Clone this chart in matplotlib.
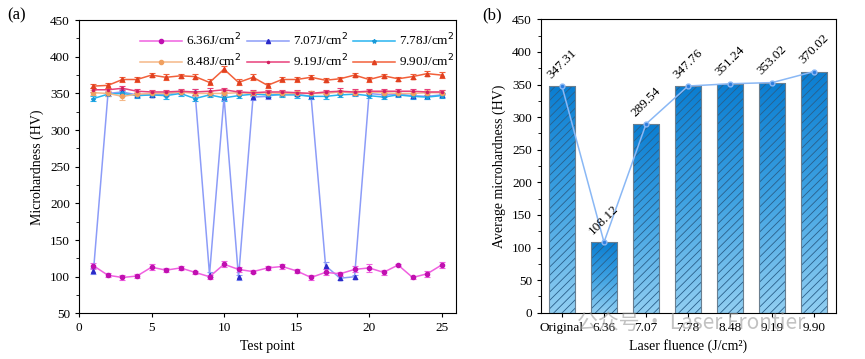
import numpy as np
import matplotlib
matplotlib.use("Agg")
import matplotlib.pyplot as plt
from matplotlib.colors import LinearSegmentedColormap
from matplotlib.lines import Line2D
from matplotlib.ticker import MultipleLocator

plt.rcParams['font.family'] = ['Liberation Serif', 'DejaVu Serif']
plt.rcParams['hatch.linewidth'] = 0.6

# ---- panel (a) data ----
points = np.arange(1, 26)
labels_a = ["6.36J/cm$^2$", "7.07J/cm$^2$", "7.78J/cm$^2$",
            "8.48J/cm$^2$", "9.19J/cm$^2$", "9.90J/cm$^2$"]
hv_636 = [115, 102, 99, 101, 113, 109, 112, 106, 100, 117, 110, 107, 112,
          114, 108, 99, 106, 104, 110, 112, 106, 116, 99, 104, 116]
hv_707 = [108, 350, 352, 348, 348, 349, 352, 352, 103, 345, 99, 345, 346,
          350, 349, 346, 115, 98, 100, 350, 348, 349, 347, 346, 348]
hv_778 = [343, 349, 350, 347, 348, 347, 350, 343, 348, 344, 347, 349, 348,
          348, 348, 346, 346, 348, 349, 347, 345, 348, 346, 345, 347]
hv_848 = [351, 350, 346, 349, 350, 350, 352, 350, 350, 350, 351, 350, 351,
          350, 350, 350, 350, 352, 351, 352, 351, 350, 350, 351, 351]
hv_919 = [355, 355, 357, 353, 352, 352, 353, 352, 353, 355, 352, 351, 352,
          352, 351, 350, 352, 353, 352, 353, 353, 353, 353, 352, 352]
hv_990 = [360, 361, 369, 369, 375, 372, 374, 373, 365, 383, 365, 372, 361,
          369, 369, 372, 368, 370, 375, 369, 374, 370, 373, 377, 375]
err_636 = [4, 3, 3, 3, 4, 3, 3, 2, 3, 4, 3, 2, 3, 3, 3, 3, 4, 3, 4, 5, 3, 2, 2, 4, 4]
err_707 = [4, 3, 4, 3, 3, 3, 3, 4, 4, 4, 4, 4, 4, 3, 3, 4, 5, 3, 3, 3, 3, 3, 3, 4, 3]
err_778 = [4, 3, 3, 3, 3, 4, 3, 4, 3, 4, 3, 3, 3, 3, 4, 4, 4, 3, 3, 3, 3, 3, 3, 3, 3]
err_848 = [3, 3, 5, 3, 3, 3, 3, 3, 3, 3, 3, 3, 3, 3, 3, 3, 3, 3, 3, 3, 3, 3, 3, 3, 3]
err_919 = [3, 3, 3, 3, 3, 3, 3, 4, 4, 3, 3, 3, 3, 3, 3, 3, 3, 4, 4, 3, 3, 3, 3, 4, 3]
err_990 = [3, 3, 4, 4, 3, 4, 3, 3, 4, 4, 4, 4, 3, 3, 3, 3, 3, 3, 3, 3, 3, 3, 4, 3, 4]

# ---- panel (b) data ----
fluence = ["Original", "6.36", "7.07", "7.78", "8.48", "9.19", "9.90"]
avg_hv = [347.31, 108.12, 289.54, 347.76, 351.24, 353.02, 370.02]

fig = plt.figure(figsize=(8.65, 3.59), dpi=100)
ax1 = fig.add_axes([0.0913, 0.127, 0.436, 0.817])
ax2 = fig.add_axes([0.6254, 0.129, 0.3411, 0.817])

# (values, errors, line colour, marker colour, marker, legend index)
series = [
    (hv_707, err_707, '#8c9cf8', '#2a2ac8', '^', 1),
    (hv_636, err_636, '#f060e0', '#c010b0', 'o', 0),
    (hv_778, err_778, '#28b4f0', '#1a9ad8', '*', 2),
    (hv_848, err_848, '#f5b888', '#f0a060', 'o', 3),
    (hv_919, err_919, '#e8407a', '#d02060', '.', 4),
    (hv_990, err_990, '#f2603a', '#e04020', '^', 5),
]
handles = [None] * 6
for vals, err, lc, mc, mk, idx in series:
    ax1.errorbar(points, vals, yerr=err, color=lc, lw=1.1, marker=mk,
                 ms=3, mfc=mc, mec=mc, ecolor=lc, elinewidth=0.8,
                 capsize=2, capthick=0.8)
    handles[idx] = Line2D([], [], color=lc, lw=1.1, marker=mk, ms=3,
                          mfc=mc, mec=mc)

ax1.set_xlim(0, 26)
ax1.set_ylim(50, 450)
ax1.xaxis.set_major_locator(MultipleLocator(5))
ax1.yaxis.set_major_locator(MultipleLocator(50))
ax1.yaxis.set_minor_locator(MultipleLocator(25))
ax1.tick_params(direction='out', labelsize=9.5, length=3)
ax1.tick_params(which='minor', length=2)
ax1.set_xlabel("Test point", fontsize=10)
ax1.set_ylabel("Microhardness (HV)", fontsize=10)
# legend fills column by column, so interleave to get row order
leg_order = [0, 3, 1, 4, 2, 5]
ax1.legend([handles[i] for i in leg_order], [labels_a[i] for i in leg_order],
           ncol=3, frameon=False, fontsize=9.5, loc='upper left',
           bbox_to_anchor=(0.13, 1.0), handlelength=3.2, columnspacing=0.4,
           handletextpad=0.3, labelspacing=0.35)

# ---- panel (b) ----
x = np.arange(len(fluence))
w = 0.62
cmap = LinearSegmentedColormap.from_list('blu', ['#92cff2', '#3ea2e2', '#0a7ed2'])
grad = np.linspace(0, 1, 256).reshape(-1, 1)
bars = ax2.bar(x, avg_hv, width=w, color='none', edgecolor='#2a5f8a',
               hatch='////', linewidth=0, zorder=3)
for b in bars:
    im = ax2.imshow(grad, cmap=cmap, origin='lower', aspect='auto',
                    extent=[b.get_x(), b.get_x() + b.get_width(), 0, b.get_height()],
                    zorder=2)
    im.set_clip_path(b)
ax2.bar(x, avg_hv, width=w, color='none', edgecolor='#6a7f90', linewidth=0.8, zorder=4)
ax2.plot(x, avg_hv, color='#8ab8f5', lw=1.1, marker='o', ms=3.5,
         mfc='#2e7fe0', mec='#8ab8f5', zorder=5)
for xi, v in zip(x, avg_hv):
    ax2.text(xi, v + 8, f"{v:.2f}", rotation=45, ha='center', va='bottom',
             fontsize=9.5, zorder=6)

ax2.set_xlim(-0.5, 6.52)
ax2.set_ylim(0, 450)
ax2.set_xticks(x)
ax2.set_xticklabels(fluence)
ax2.yaxis.set_major_locator(MultipleLocator(50))
ax2.yaxis.set_minor_locator(MultipleLocator(25))
ax2.tick_params(direction='out', labelsize=9.5, length=3)
ax2.tick_params(which='minor', length=2)
ax2.set_xlabel("Laser fluence (J/cm\u00b2)", fontsize=10)
ax2.set_ylabel("Average microhardness (HV)", fontsize=10)

fig.text(0.008, 0.945, "(a)", fontsize=12)
fig.text(0.557, 0.945, "(b)", fontsize=12)

# watermark, as in the source image
fig.text(0.667, 0.1, "公众号 · Laser Frontier", fontsize=15, color='#9a9a9a',
         alpha=0.6, family=['Noto Sans CJK SC', 'DejaVu Sans'], va='center')

fig.savefig("out.png", dpi=100)
